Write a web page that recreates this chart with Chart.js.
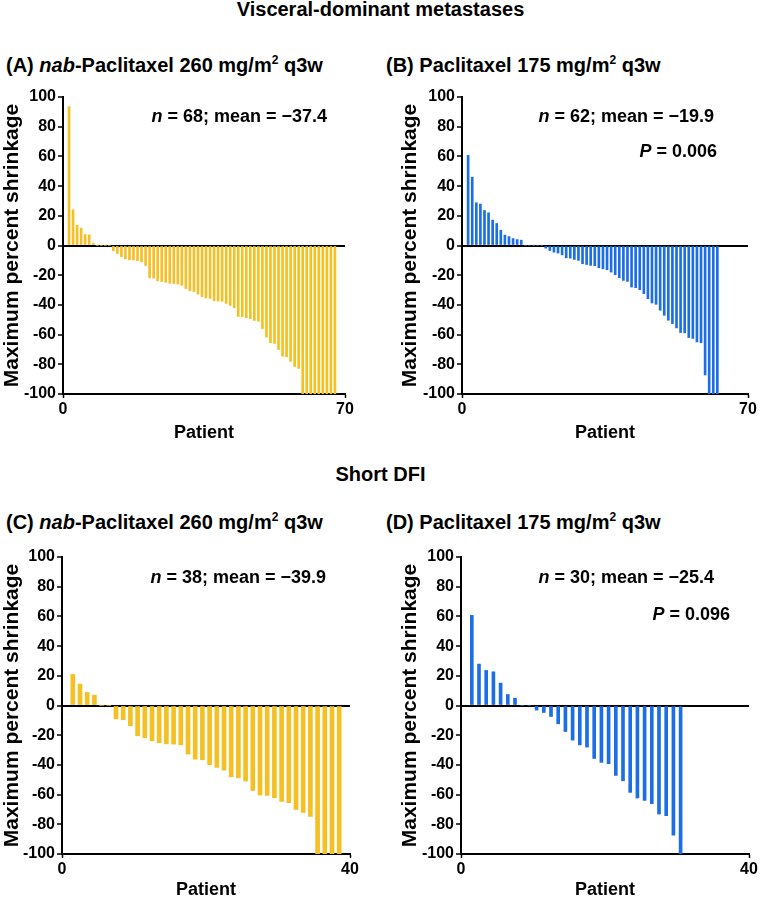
<!DOCTYPE html>
<html>
<head>
<meta charset="utf-8">
<script src="https://cdn.jsdelivr.net/npm/chart.js@4.4.1/dist/chart.umd.min.js"></script>
<style>
  body { margin: 0; background: #fff; width: 761px; height: 900px; position: relative; overflow: hidden;
         font-family: "Liberation Sans", Arial, sans-serif; font-weight: bold; color: #000; }
  .txt { position: absolute; white-space: nowrap; line-height: 1; }
  .head { font-size: 20px; left: 0; width: 761px; text-align: center; }
  .ptitle { font-size: 20px; }
  .note { font-size: 18px; text-align: right; }
  sup { font-size: 12px; vertical-align: 8px; line-height: 0; }
  .box { position: absolute; }
</style>
</head>
<body>

<div class="txt head" style="top:-1px">Visceral-dominant metastases</div>
<div class="txt ptitle" style="left:6px; top:55px">(A) <i>nab</i>-Paclitaxel 260 mg/m<sup>2</sup> q3w</div>
<div class="txt ptitle" style="left:386px; top:55px">(B) Paclitaxel 175 mg/m<sup>2</sup> q3w</div>

<div class="txt head" style="top:464px">Short DFI</div>
<div class="txt ptitle" style="left:6px; top:512px">(C) <i>nab</i>-Paclitaxel 260 mg/m<sup>2</sup> q3w</div>
<div class="txt ptitle" style="left:386px; top:512px">(D) Paclitaxel 175 mg/m<sup>2</sup> q3w</div>

<div class="box" style="left:0px; top:80px"><canvas id="chartA" width="370" height="365"></canvas></div>
<div class="box" style="left:398px; top:80px"><canvas id="chartB" width="363" height="365"></canvas></div>
<div class="box" style="left:0px; top:540px"><canvas id="chartC" width="370" height="362"></canvas></div>
<div class="box" style="left:398px; top:540px"><canvas id="chartD" width="363" height="362"></canvas></div>

<div class="txt note" style="right:434px; top:107px"><i>n</i> = 68; mean = −37.4</div>
<div class="txt note" style="right:47px; top:107px"><i>n</i> = 62; mean = −19.9</div>
<div class="txt note" style="right:44px; top:142px"><i>P</i> = 0.006</div>
<div class="txt note" style="right:435px; top:568px"><i>n</i> = 38; mean = −39.9</div>
<div class="txt note" style="right:47px; top:568px"><i>n</i> = 30; mean = −25.4</div>
<div class="txt note" style="right:31px; top:605px"><i>P</i> = 0.096</div>

<script>
// ### data ###
// maximum percent shrinkage per patient, sorted as in the waterfall plots
const A_VALUES = [
  93.5, 24, 13.7, 11.7, 7.4, 7.2, 1.6,
  0, 0, 0, 0,
  -3.6, -5.4, -7.6, -9, -9.7, -9.7, -10.2, -11, -13.5, -21.8,
  -22, -23.8, -24.3, -24.8, -25.4, -25.6, -26, -26.8, -29, -30.5,
  -31, -32.8, -34.5, -35.3, -35.6, -37.2, -37.4, -37.6, -39, -40.4,
  -42, -47.8, -48, -48.6, -49.2, -50.5, -51, -56, -61.6, -65.5,
  -66, -70, -74.5, -75, -78, -81.5, -82.8,
  -100, -100, -100, -100, -100, -100, -100, -100, -100
];
const B_VALUES = [
  60.7, 46, 28.8, 27.9, 23.6, 22, 17.1, 14.8, 10.3, 7, 6, 4.7, 4, 3.6,
  0, 0, 0, 0, 0,
  -1.8, -3.4, -4.5, -5.1, -6.3, -8.3, -8.5, -9.4, -10, -12.3,
  -12.8, -13.4, -13.6, -15, -15.7, -16.3, -17.9, -19.7, -21.7, -23.5,
  -24.2, -28, -28.4, -29.8, -32.4, -35.8, -38.7, -39.6, -43.6, -47,
  -50.3, -52.6, -55.5, -58.6, -58.8, -62, -62.6, -64.9, -65.5, -87.2,
  -100, -100, -100
];
const C_VALUES = [
  20.9, 14.4, 8.8, 7,
  0, 0,
  -9, -9.6, -13.7, -20.4, -21.7, -23.8, -25.1, -25.8, -26, -26.5,
  -32.7, -36.1, -36.5, -39.9, -41.7, -43.5, -48, -48.7, -50.9, -57.2,
  -60.3, -60.5, -62.1, -64.6, -65.5, -70, -72, -74.7,
  -100, -100, -100, -100
];
const D_VALUES = [
  60.7, 27.9, 23.6, 22.7, 15.1, 7.4, 4.9,
  0, 0,
  -3.1, -4.7, -7.4, -12.3, -17.5, -23.3, -26.5, -28, -35.7, -38.3,
  -39.2, -47.1, -50.7, -58.5, -62.3, -63.9, -66.1, -73.1, -74.2, -87.4,
  -100
];

// ### tick labels ###
const Y_TICKS = [-100, -80, -60, -40, -20, 0, 20, 40, 60, 80, 100];
const X_TICKS_TOP = [0, 70];
const X_TICKS_BOTTOM = [0, 40];

// ### colors ###
const YELLOW = "#F5C023";
const BLUE = "#1C6EE6";
const BLACK = "#000000";

const FONT = '"Liberation Sans", Arial, sans-serif';

// area = where the plot area sits inside the canvas
function renderPanel(id, values, color, barWidth, xTicks, area) {
  const canvas = document.getElementById(id);
  const points = values.map((v, i) => ({ x: i + 1.5, y: v }));

  new Chart(canvas, {
    type: "bar",
    data: {
      datasets: [
        {
          data: points,
          backgroundColor: color,
          borderWidth: 0,
          barThickness: barWidth,
        },
      ],
    },
    options: {
      responsive: false,
      animation: false,
      events: [],
      layout: {
        padding: { left: 0, right: canvas.width - area.right, top: area.top, bottom: 0 },
      },
      plugins: { legend: { display: false }, tooltip: { enabled: false } },
      scales: {
        x: {
          type: "linear",
          min: xTicks[0],
          max: xTicks[xTicks.length - 1],
          offset: false,
          afterBuildTicks: (s) => { s.ticks = xTicks.map((v) => ({ value: v })); },
          afterFit: (s) => { s.height = canvas.height - area.bottom; },
          ticks: { color: BLACK, font: { family: FONT, size: 16, weight: "bold" }, padding: 2, maxRotation: 0 },
          grid: { offset: false, drawOnChartArea: false, drawTicks: true, tickLength: 4, color: BLACK, tickWidth: 1.5 },
          border: { color: BLACK, width: 2 },
          title: {
            display: true,
            text: "Patient",
            color: BLACK,
            font: { family: FONT, size: 18, weight: "bold" },
            padding: { top: 0, bottom: 1 },
          },
        },
        y: {
          min: -100,
          max: 100,
          afterBuildTicks: (s) => { s.ticks = Y_TICKS.map((v) => ({ value: v })); },
          afterFit: (s) => { s.width = area.left; },
          ticks: {
            color: BLACK,
            font: { family: FONT, size: 16, weight: "bold" },
            padding: 2,
            callback: (v) => String(v),
          },
          grid: {
            color: (ctx) => (ctx.tick && ctx.tick.value === 0 ? BLACK : "rgba(0,0,0,0)"),
            lineWidth: 2,
            tickColor: BLACK,
            tickLength: 5,
            tickWidth: 1.5,
          },
          border: { color: BLACK, width: 2 },
          title: {
            display: true,
            text: "Maximum percent shrinkage",
            color: BLACK,
            font: { family: FONT, size: 21, weight: "bold" },
            padding: { top: area.titleX, bottom: 0 },
          },
        },
      },
    },
  });
}

// ### application start ###
renderPanel("chartA", A_VALUES, YELLOW, 2, X_TICKS_TOP, { left: 63, right: 345, top: 17, bottom: 314, titleX: 0 });
renderPanel("chartB", B_VALUES, BLUE, 2, X_TICKS_TOP, { left: 64, right: 350, top: 17, bottom: 314, titleX: 0 });
renderPanel("chartC", C_VALUES, YELLOW, 4, X_TICKS_BOTTOM, { left: 62, right: 350, top: 17, bottom: 314, titleX: 0 });
renderPanel("chartD", D_VALUES, BLUE, 3, X_TICKS_BOTTOM, { left: 63, right: 351, top: 17, bottom: 314, titleX: 0 });
</script>
</body>
</html>
